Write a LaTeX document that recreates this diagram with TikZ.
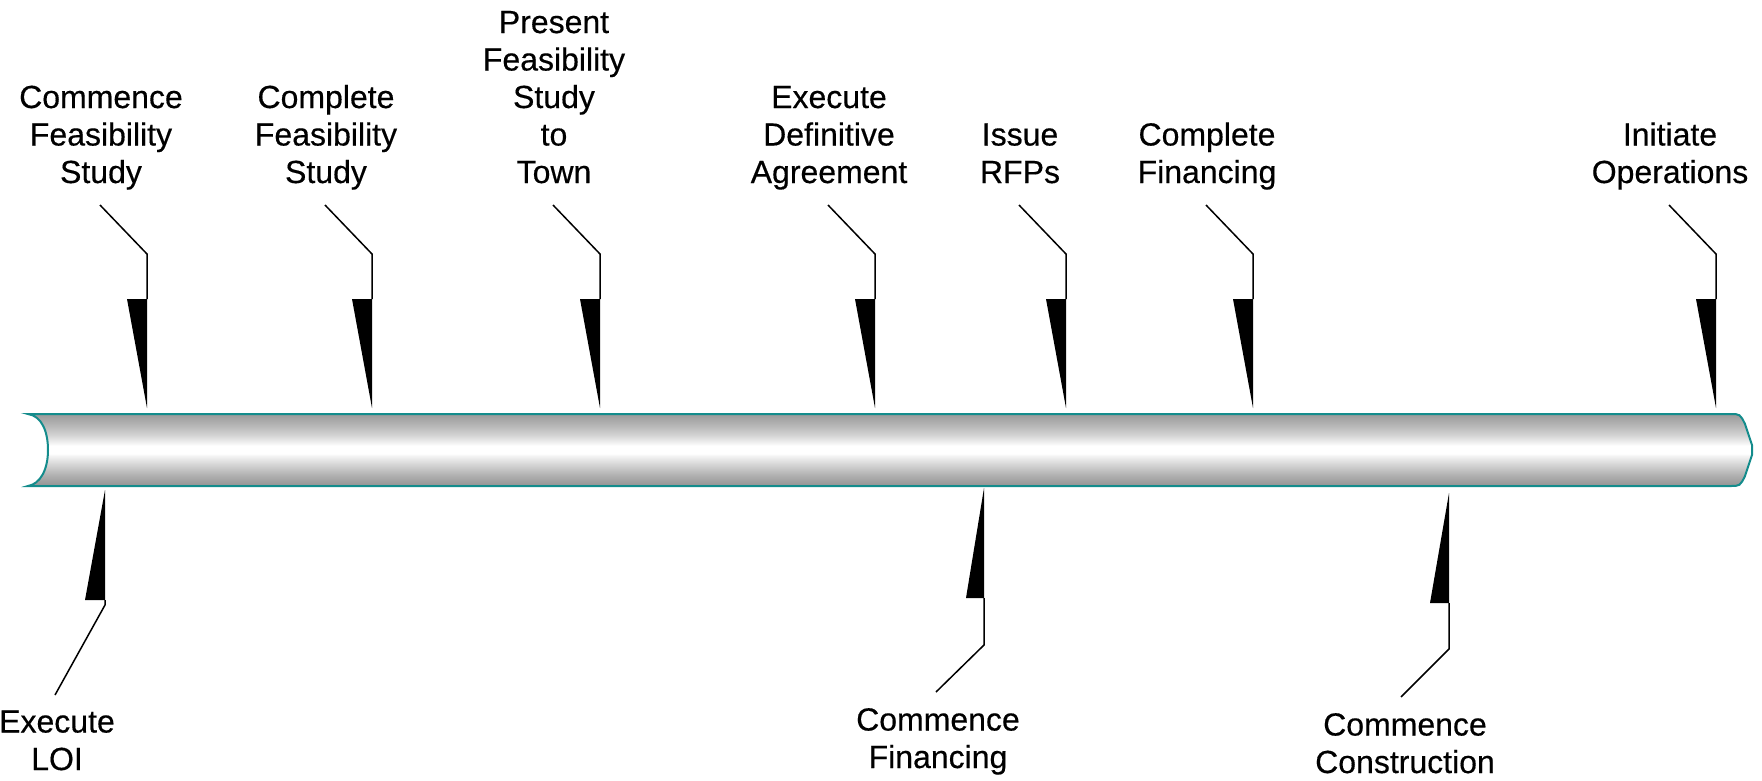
\documentclass[tikz,border=0pt]{standalone}
\usepackage{fontspec}
\setmainfont{Liberation Sans}
\newfontfamily\lblfont[FakeBold=0.4]{Liberation Sans}
\definecolor{tubeteal}{RGB}{20,140,140}
\definecolor{ta}{HTML}{939393}
\definecolor{tb}{HTML}{B0B0B0}
\definecolor{tc}{HTML}{D5D5D5}
\definecolor{td}{HTML}{F4F4F4}
\definecolor{te}{HTML}{F2F2F2}
\definecolor{tf}{HTML}{D0D0D0}
\definecolor{tg}{HTML}{B5B5B5}
\definecolor{th}{HTML}{9A9A9A}
\pgfdeclareverticalshading{tubeshade}{100bp}{color(0bp)=(ta); color(25bp)=(ta); color(32.5bp)=(tb); color(40bp)=(tc); color(46bp)=(td); color(47.5bp)=(white); color(53bp)=(white); color(55bp)=(te); color(61bp)=(tf); color(67.5bp)=(tg); color(75bp)=(th); color(100bp)=(th)}
\tikzset{
  lbl/.style={font=\lblfont\fontsize{32pt}{37.5pt}\selectfont, align=center, anchor=base, inner sep=0pt},
  lead/.style={line width=1.5pt, black},
  flagfill/.style={fill=black},
  tubeline/.style={draw=tubeteal, line width=2pt}
}
\begin{document}
\begin{tikzpicture}[x=1pt, y=-1pt]
\useasboundingbox (0,0) rectangle (1762,780);
% tube
\shade[tubeline, shading=tubeshade]
  (28,414) -- (1730,414) .. controls (1740,414) .. (1745,424) -- (1752,445) -- (1752,455)
  -- (1745,476) .. controls (1740,486) .. (1730,486) -- (28,486)
  .. controls (40,484) and (48,470) .. (48,450) .. controls (48,432) and (42,416) .. (28,414) -- cycle;
% upper milestones
\foreach \n/\X/\txt in {
  a/147/{Commence\\Feasibility\\Study},
  b/372/{Complete\\Feasibility\\Study},
  c/600/{Present\\Feasibility\\Study\\to\\Town},
  d/875/{Execute\\Definitive\\Agreement},
  e/1066/{Issue\\RFPs},
  f/1253/{Complete\\Financing},
  g/1716/{Initiate\\Operations}}
{
  \node[lbl] (U\n) at (\X-46,183) {\txt};
  \coordinate (US\n) at (\X-47,205);
  \coordinate (UB\n) at (\X,254);
  \coordinate (UT\n) at (\X,299);
  \coordinate (UP\n) at (\X,408);
  \draw[lead] (US\n) -- (UB\n) -- (UT\n);
  \fill[flagfill] (UT\n) -- ++(-20,0) -- (UP\n) -- cycle;
}
% lower milestones
\foreach \n/\X/\tip/\bot/\w/\bend/\ex/\ey/\lx/\ly/\txt in {
  a/105/490/600/20/605/55/695/57/770/{Execute\\LOI},
  b/984/488/598/18/645/936/692/938/768/{Commence\\Financing},
  c/1449/493/603/19/649/1401/697/1405/773/{Commence\\Construction}}
{
  \node[lbl] (D\n) at (\lx,\ly) {\txt};
  \coordinate (DP\n) at (\X,\tip);
  \coordinate (DT\n) at (\X,\bot);
  \coordinate (DB\n) at (\X,\bend);
  \coordinate (DS\n) at (\ex,\ey);
  \fill[flagfill] (DP\n) -- (DT\n) -- ++(-\w,0) -- cycle;
  \draw[lead] (DT\n) -- (DB\n) -- (DS\n);
}
\end{tikzpicture}
\end{document}
